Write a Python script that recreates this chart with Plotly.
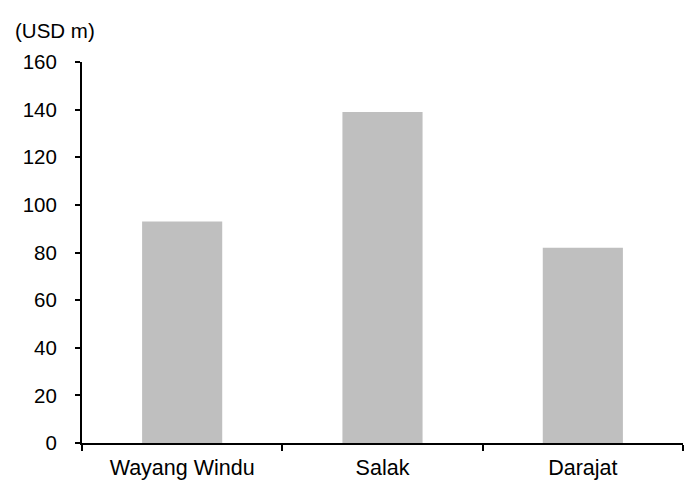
import plotly.graph_objects as go

# Project values, USD m
projects = ["Wayang Windu", "Salak", "Darajat"]
values = [93, 139, 82]
y_ticks = [0, 20, 40, 60, 80, 100, 120, 140, 160]

fig = go.Figure(
    go.Bar(
        x=projects,
        y=values,
        marker=dict(color="#bfbfbf", line=dict(width=0)),
        width=0.4,
    )
)

font = dict(family="Liberation Sans, Arial, sans-serif", size=20.5, color="#000000")

fig.update_layout(
    width=699,
    height=483,
    margin=dict(l=82, r=16, t=62, b=40),
    paper_bgcolor="white",
    plot_bgcolor="white",
    font=font,
    showlegend=False,
    annotations=[
        dict(
            text="(USD m)",
            xref="paper", yref="paper",
            x=-69 / 601, y=1,
            xanchor="left", yanchor="bottom",
            yshift=18,
            showarrow=False,
            font=font,
        )
    ],
)

fig.update_xaxes(
    type="category",
    range=[-0.5, 2.5],
    automargin=False,
    showline=True, linecolor="black", linewidth=2,
    ticks="outside", tickson="boundaries", ticklen=6, tickwidth=2, tickcolor="black",
    showgrid=False,
    tickfont=dict(size=21.5),
    ticklabelstandoff=4,
)
fig.update_yaxes(
    range=[0, 160],
    tickvals=y_ticks,
    automargin=False,
    showline=True, linecolor="black", linewidth=2,
    ticks="outside", ticklen=5, tickwidth=2, tickcolor="black",
    showgrid=False, zeroline=False,
    ticklabelstandoff=14,
)

fig.write_html("out.html")
